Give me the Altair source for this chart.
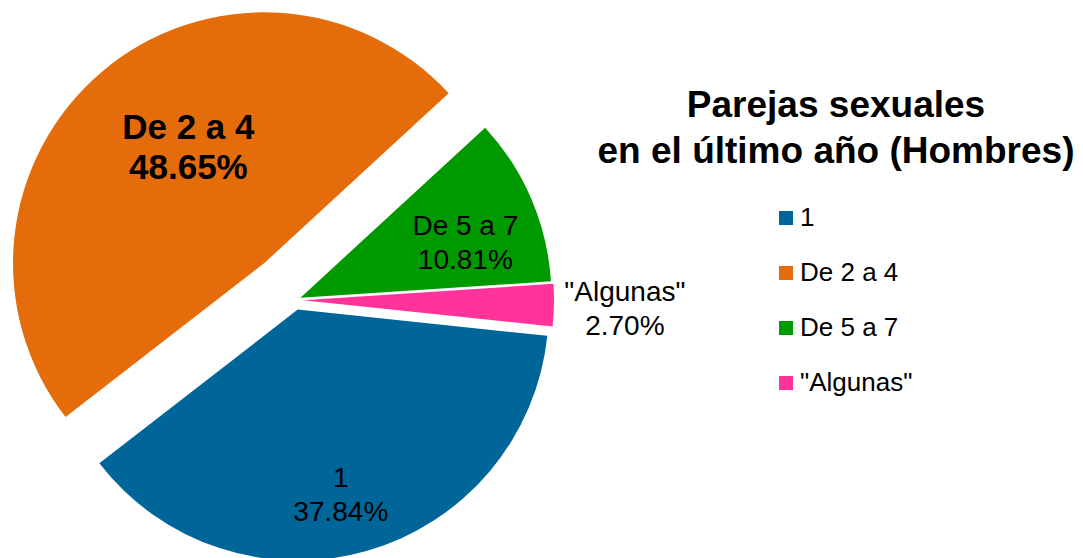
import math
import altair as alt
import pandas as pd

# ---- data ----
categories = ["1", "De 2 a 4", "De 5 a 7", "\"Algunas\""]
percentages = [37.84, 48.65, 10.81, 2.70]
colors = ["#006699", "#E46C0A", "#009900", "#FF3399"]
title_lines = ["Parejas sexuales", "en el último año (Hombres)"]

# ---- style (layout) settings ----
FONT = "Liberation Sans"
CX, CY, R = 287, 292, 251              # pie centre / radius in px
START = math.radians(96)               # rotation of first slice
explode = {"1": 10, "De 2 a 4": 48, "De 5 a 7": 6, "\"Algunas\"": 8}
label_r = {"1": 189, "De 2 a 4": 146, "De 5 a 7": 174, "\"Algunas\"": 322}
label_shift = {"1": 2.7, "De 2 a 4": 9.0, "De 5 a 7": 4.5, "\"Algunas\"": 0.3}

df = pd.DataFrame({
    "category": categories,
    "value": percentages,
    "order": list(range(len(categories))),
    "explode": [explode[c] for c in categories],
    "lr": [label_r[c] for c in categories],
    "lshift": [label_shift[c] for c in categories],
})

base = (
    alt.Chart(df)
    .transform_window(cum="sum(value)", sort=[alt.SortField("order")], frame=[None, 0])
    .transform_calculate(
        start="datum.cum - datum.value",
        end="datum.cum",
        mid=f"{START} + 2*PI*(datum.cum - datum.value/2)/100",
    )
    .transform_calculate(
        cx=f"{CX} + datum.explode*sin(datum.mid)",
        cy=f"{CY} - datum.explode*cos(datum.mid)",
        lang="datum.mid + datum.lshift*PI/180",
        label="datum.category + '\\n' + format(datum.value, '.2f') + '%'",
    )
    .transform_calculate(
        lx="datum.cx + datum.lr*sin(datum.lang)",
        ly="datum.cy - datum.lr*cos(datum.lang)",
    )
)

theta_scale = alt.Scale(domain=[0, 100], range=[START, START + 2 * math.pi])

arcs = base.mark_arc(radius=R, stroke=None).encode(
    theta=alt.Theta("start:Q", scale=theta_scale, stack=None),
    theta2="end:Q",
    x=alt.X("cx:Q", scale=None),
    y=alt.Y("cy:Q", scale=None),
    color=alt.Color(
        "category:N",
        scale=alt.Scale(domain=categories, range=colors),
        legend=alt.Legend(
            title=None,
            orient="none",
            legendX=765,
            legendY=197,
            symbolType="square",
            symbolSize=196,
            symbolStrokeWidth=0,
            labelFontSize=26,
            labelFont=FONT,
            labelColor="#000000",
            labelOffset=1,
            rowPadding=29,
            padding=0,
        ),
    ),
)

labels_normal = base.transform_filter("datum.category != 'De 2 a 4'").mark_text(
    font=FONT, fontSize=28, lineBreak="\n", lineHeight=34, dy=-15,
    align="center", baseline="middle", color="#000000",
).encode(
    x=alt.X("lx:Q", scale=None),
    y=alt.Y("ly:Q", scale=None),
    text="label:N",
)

labels_bold = base.transform_filter("datum.category == 'De 2 a 4'").mark_text(
    font=FONT, fontSize=35, fontWeight="bold", lineBreak="\n", lineHeight=40, dy=-10,
    align="center", baseline="middle", color="#000000",
).encode(
    x=alt.X("lx:Q", scale=None),
    y=alt.Y("ly:Q", scale=None),
    text="label:N",
)

title = alt.Chart(pd.DataFrame({"t": [0]})).mark_text(
    text=title_lines, font=FONT, fontSize=37, fontWeight="bold", lineHeight=46,
    align="center", baseline="middle", color="#000000",
).encode(x=alt.value(828), y=alt.value(98))

chart = (
    alt.layer(arcs, labels_normal, labels_bold, title)
    .properties(width=1067, height=550, padding=0,
                autosize=alt.AutoSizeParams(type="none"))
    .configure_view(stroke=None)
)

chart.save("out.html", embed_options={"renderer": "svg", "actions": False})
